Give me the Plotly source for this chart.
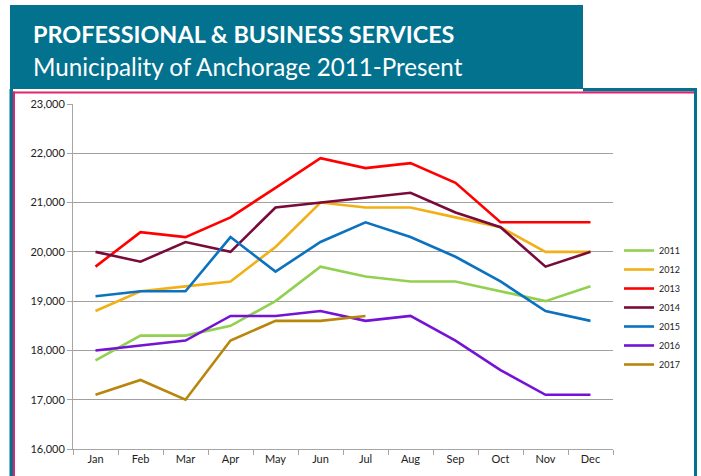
import plotly.graph_objects as go

months = ["Jan", "Feb", "Mar", "Apr", "May", "Jun", "Jul", "Aug", "Sep", "Oct", "Nov", "Dec"]
years = ["2011", "2012", "2013", "2014", "2015", "2016", "2017"]
v2011 = [17800, 18300, 18300, 18500, 19000, 19700, 19500, 19400, 19400, 19200, 19000, 19300]
v2012 = [18800, 19200, 19300, 19400, 20100, 21000, 20900, 20900, 20700, 20500, 20000, 20000]
v2013 = [19700, 20400, 20300, 20700, 21300, 21900, 21700, 21800, 21400, 20600, 20600, 20600]
v2014 = [20000, 19800, 20200, 20000, 20900, 21000, 21100, 21200, 20800, 20500, 19700, 20000]
v2015 = [19100, 19200, 19200, 20300, 19600, 20200, 20600, 20300, 19900, 19400, 18800, 18600]
v2016 = [18000, 18100, 18200, 18700, 18700, 18800, 18600, 18700, 18200, 17600, 17100, 17100]
v2017 = [17100, 17400, 17000, 18200, 18600, 18600, 18700]
series = [v2011, v2012, v2013, v2014, v2015, v2016, v2017]
colors = ["#92D050", "#F2B017", "#FF0000", "#7A0A3C", "#0B72C0", "#7412D6", "#B8860B"]

title = "PROFESSIONAL & BUSINESS SERVICES"
subtitle = "Municipality of Anchorage 2011-Present"

W, H = 701, 476
L, R, T, B = 73, 88, 104, 27
PW, PH = W - L - R, H - T - B


def px(x):
    return (x - L) / PW


def py(y):
    return (H - B - y) / PH


fig = go.Figure()
for name, vals, c in zip(years, series, colors):
    fig.add_trace(go.Scatter(x=months[:len(vals)], y=vals, name=name, mode="lines",
                             line=dict(color=c, width=2.6)))

teal = "#03728F"
pink = "#E2246E"
shapes = []


def rect(x0, y0, x1, y1, color):
    shapes.append(dict(type="rect", xref="paper", yref="paper", x0=px(x0), x1=px(x1),
                       y0=py(y0), y1=py(y1), fillcolor=color, line=dict(width=0), layer="above"))


rect(10, 5, 583, 89, teal)
rect(583, 88, 697, 91.5, teal)
rect(694, 88, 697, 480, teal)
rect(9.5, 89, 13, 480, teal)
rect(13, 91.5, 694, 93.5, pink)
rect(13, 91.5, 15, 480, pink)

tickfont = dict(family="Lato", size=11, color="#222")

fig.update_layout(
    width=W, height=H,
    margin=dict(l=L, r=R, t=T, b=B),
    paper_bgcolor="white", plot_bgcolor="white",
    shapes=shapes,
    showlegend=True,
    legend=dict(x=px(619), y=py(236), xanchor="left", yanchor="top",
                font=dict(family="Lato", size=9, color="#222"),
                itemwidth=30, bgcolor="rgba(0,0,0,0)", tracegroupgap=0),
    annotations=[
        dict(text="<b>" + title.replace("&", "&amp;") + "</b>", xref="paper", yref="paper",
             x=px(31), y=py(34), xanchor="left", yanchor="middle", showarrow=False,
             font=dict(family="Lato", size=23.4, color="white")),
        dict(text=subtitle, xref="paper", yref="paper",
             x=px(31), y=py(66), xanchor="left", yanchor="middle", showarrow=False,
             font=dict(family="Lato", size=24.2, color="white")),
    ],
    xaxis=dict(type="category", categoryorder="array", categoryarray=months,
               range=[-0.5, 11.5], showgrid=False, showline=True, linecolor="#A6A6A6",
               linewidth=1, ticks="outside", tickson="boundaries", ticklen=5,
               tickcolor="#A6A6A6", tickfont=tickfont, zeroline=False),
    yaxis=dict(range=[16000, 23000], dtick=1000, tickformat=",", showgrid=True,
               gridcolor="#A0A0A0", gridwidth=1, showline=True, linecolor="#A6A6A6",
               ticks="outside", ticklen=5, tickcolor="#A6A6A6",
               tickfont=tickfont, zeroline=False),
)

fig.write_html("out.html", config={"displayModeBar": False},
               post_script="document.body.style.margin='0';")
